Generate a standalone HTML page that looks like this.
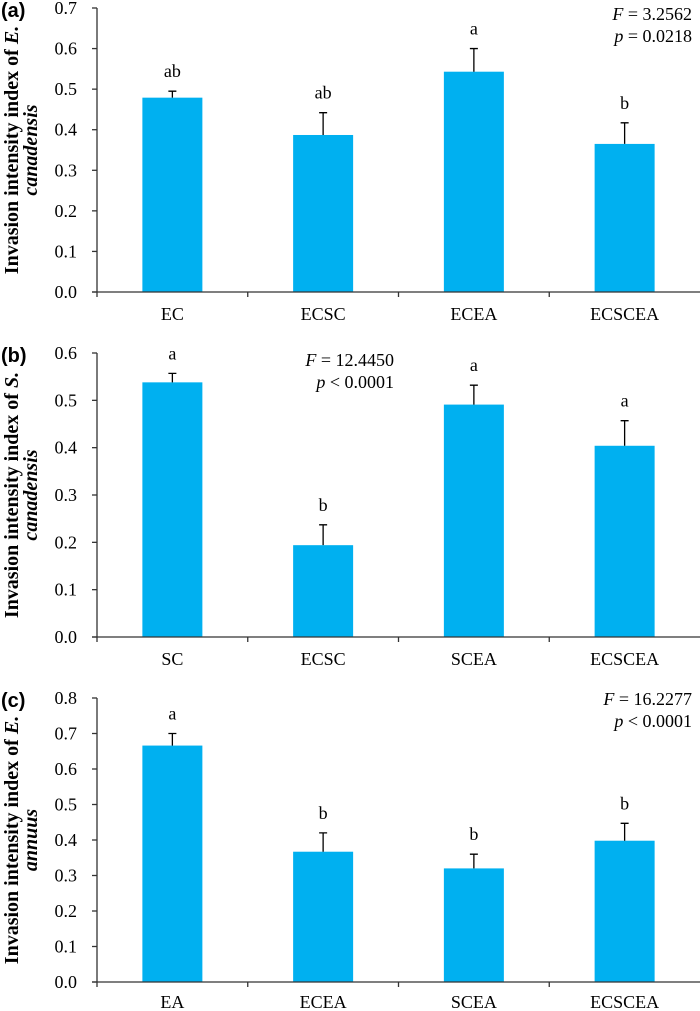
<!DOCTYPE html>
<html><head><meta charset="utf-8"><style>
html,body{margin:0;padding:0;background:#fff;}
svg{display:block;}
</style></head><body>
<svg id="chart" width="700" height="1011" xmlns="http://www.w3.org/2000/svg"></svg>
<script>
const catsA = ["EC","ECSC","ECEA","ECSCEA"];
const valsA = [0.479,0.387,0.543,0.365];
const errA = [0.016,0.055,0.057,0.052];
const letA = ["ab","ab","a","b"];
const ticksA = ["0.0","0.1","0.2","0.3","0.4","0.5","0.6","0.7"];

const catsB = ["SC","ECSC","SCEA","ECSCEA"];
const valsB = [0.538,0.194,0.491,0.404];
const errB = [0.019,0.043,0.041,0.053];
const letB = ["a","b","a","a"];
const ticksB = ["0.0","0.1","0.2","0.3","0.4","0.5","0.6"];

const catsC = ["EA","ECEA","SCEA","ECSCEA"];
const valsC = [0.666,0.367,0.320,0.398];
const errC = [0.034,0.053,0.040,0.049];
const letC = ["a","b","b","b"];
const ticksC = ["0.0","0.1","0.2","0.3","0.4","0.5","0.6","0.7","0.8"];

const NS="http://www.w3.org/2000/svg";
const svg=document.getElementById('chart');
function mk(tag,attrs,parent,text){const e=document.createElementNS(NS,tag);for(const k in attrs)e.setAttribute(k,attrs[k]);if(text!==undefined)e.textContent=text;(parent||svg).appendChild(e);return e;}
const serif='"Liberation Serif", serif';

function panel(o){
  const g=mk('g',{});
  
  
  const x0=97,x1=700,top=o.top,bot=o.bot,ymax=o.ymax;
  const y=v=>bot-(v/ymax)*(bot-top);
  const step=(x1-x0)/o.cats.length;
  const xc=i=>x0+step*(i+0.5);
  const pl=mk('text',{x:1,y:top+9,'font-family':'"Liberation Sans", sans-serif','font-weight':'bold','font-size':20},g,'('+o.id+')');
  
  
  o.vals.forEach((v,i)=>{
    const cx=xc(i);
    const b=mk('rect',{x:cx-30,y:y(v),width:60,height:bot-y(v),fill:'#00B0F0'},g);
    
    
    const et=y(v+o.errs[i]);
    const e=mk('path',{d:`M${cx},${y(v)}V${et}M${cx-4},${et}H${cx+4}`,stroke:'#000','stroke-width':1.3,fill:'none'},g);
    
    
    const l=mk('text',{x:cx,y:et-14,'text-anchor':'middle','font-family':serif,'font-size':18},g,o.lets[i]);
    
    
    const c=mk('text',{x:cx,y:o.catY,'text-anchor':'middle','font-family':serif,'font-size':18},g,o.cats[i]);
    
    
  });
  const ax=mk('path',{d:`M${x0},${top}V${bot}M${x0-5},${bot}H${x1}`,stroke:'#333','stroke-width':1.3,fill:'none'},g);
  
  
  o.ticks.forEach(t=>{
    const ty=y(parseFloat(t));
    mk('path',{d:`M${x0-5},${ty}H${x0}`,stroke:'#333','stroke-width':1.3},g);
    const tl=mk('text',{x:x0-20,y:ty+6,'text-anchor':'end','font-family':serif,'font-size':18},g,t);
    
    
  });
  for(let i=0;i<o.cats.length;i++){mk('path',{d:`M${x0+step*i},${bot}V${bot+5}`,stroke:'#333','stroke-width':1.3},g);}
  const my=(top+bot)/2;
  const t=mk('text',{transform:`translate(18,${my}) rotate(-90)`,'text-anchor':'middle','font-family':serif,'font-weight':'bold','font-size':20},g);
  
  
  mk('tspan',{x:0,y:0},t,'Invasion intensity index of ');
  mk('tspan',{'font-style':'italic'},t,o.sp1);
  mk('tspan',{x:0,y:19,'font-style':'italic'},t,o.sp2);
  const s=mk('text',{x:o.sx,y:o.sy,'text-anchor':o.anchor,'font-family':serif,'font-size':18},g);
  
  
  mk('tspan',{'font-style':'italic'},s,'F');
  mk('tspan',{},s,' = '+o.F);
  const p=mk('text',{x:o.sx,y:o.sy+22,'text-anchor':o.anchor,'font-family':serif,'font-size':18},g);
  
  
  mk('tspan',{'font-style':'italic'},p,'p');
  mk('tspan',{},p,o.P);
}
panel({id:'a',top:8,bot:292,ymax:0.7,cats:catsA,vals:valsA,errs:errA,lets:letA,ticks:ticksA,catY:320,sp1:'E.',sp2:'canadensis',sx:692,sy:20,anchor:'end',F:'3.2562',P:' = 0.0218'});
panel({id:'b',top:353,bot:637,ymax:0.6,cats:catsB,vals:valsB,errs:errB,lets:letB,ticks:ticksB,catY:665,sp1:'S.',sp2:'canadensis',sx:394,sy:366,anchor:'end',F:'12.4450',P:' < 0.0001'});
panel({id:'c',top:698,bot:982,ymax:0.8,cats:catsC,vals:valsC,errs:errC,lets:letC,ticks:ticksC,catY:1008,sp1:'E.',sp2:'annuus',sx:692,sy:705,anchor:'end',F:'16.2277',P:' < 0.0001'});
</script>
</body></html>
